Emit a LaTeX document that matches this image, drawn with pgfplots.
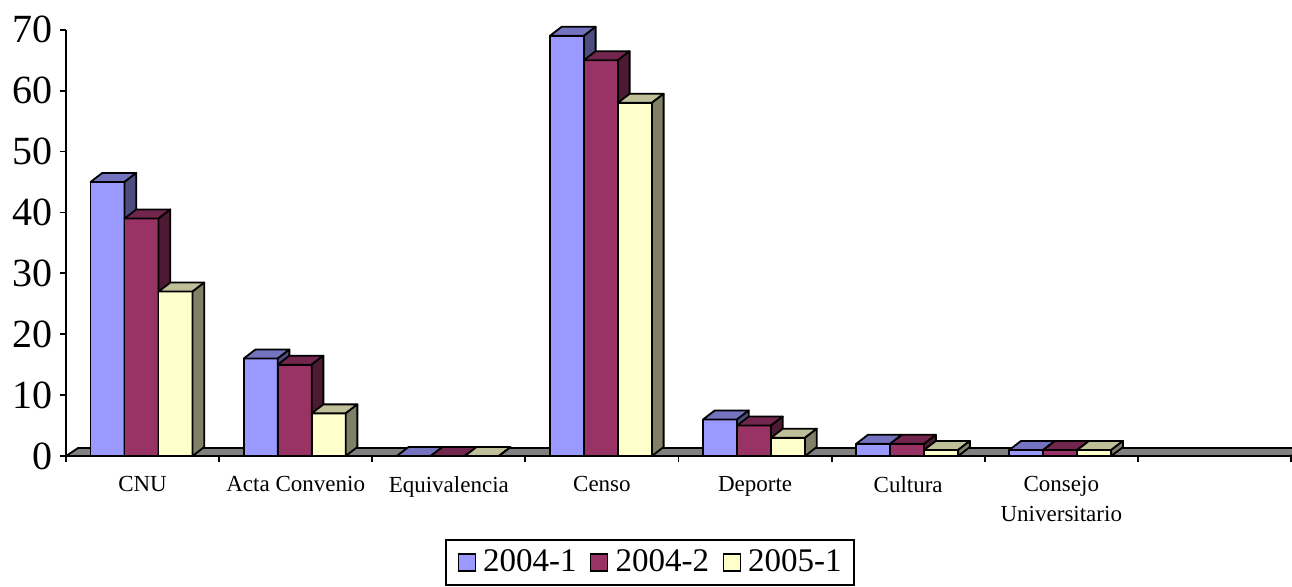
\documentclass[border=0pt]{standalone}
\usepackage{fontspec}
\setmainfont{Liberation Serif}
\usepackage{pgfplots}
\pgfplotsset{compat=1.18}
\definecolor{cA}{HTML}{9999FF}
\definecolor{cAt}{HTML}{7373BF}
\definecolor{cAs}{HTML}{4D4D80}
\definecolor{cB}{HTML}{993366}
\definecolor{cBt}{HTML}{73264D}
\definecolor{cBs}{HTML}{4D1A33}
\definecolor{cC}{HTML}{FFFFCC}
\definecolor{cCt}{HTML}{BFBF99}
\definecolor{cCs}{HTML}{808066}
\definecolor{floorc}{HTML}{808080}
\pgfdeclareplotmark{nothing}{}
% #1 front, #2 top, #3 side colour, #4 horizontal offset (pt, no unit)
\newcommand\drawbox[4]{%
  \pgfmathsetmacro\bxh{-\ry*3.045}%
  \pgfmathsetmacro\bxt{4.5-\ry*3.045}%
  \pgfmathsetmacro\bxl{#4-8.5}%
  \pgfmathsetmacro\bxr{#4+8.5}%
  \pgfmathsetmacro\bxlb{#4-8.5+5.85}%
  \pgfmathsetmacro\bxrb{#4+8.5+5.85}%
  \filldraw[fill=#1, draw=black, line width=0.9pt, line join=round] (\bxl pt,\bxh pt) rectangle (\bxr pt,0pt);
  \filldraw[fill=#2, draw=black, line width=0.9pt, line join=round] (\bxl pt,0pt) -- (\bxlb pt,4.5pt) -- (\bxrb pt,4.5pt) -- (\bxr pt,0pt) -- cycle;
  \filldraw[fill=#3, draw=black, line width=0.9pt, line join=round] (\bxr pt,0pt) -- (\bxrb pt,4.5pt) -- (\bxrb pt,\bxt pt) -- (\bxr pt,\bxh pt) -- cycle;
}
\pgfplotsset{
  box3d/.style n args={4}{
    scatter, only marks, mark=nothing,
    visualization depends on={rawy \as \ry},
    scatter/@pre marker code/.code={\drawbox{#1}{#2}{#3}{#4}},
    scatter/@post marker code/.code={},
    legend image code/.code={\path[draw=none, fill=none] (-2pt,0pt) -- (10.5pt,0pt); \draw[fill=#1, draw=black, line width=0.7pt] (0pt,-4.25pt) rectangle (8.5pt,4.25pt);},
  },
}
\begin{document}
\begin{tikzpicture}
\useasboundingbox (-33pt,-65pt) rectangle (613pt,228pt);
\begin{axis}[
  at={(0pt,0pt)}, anchor=south west,
  x=76.5625pt, y=3.045pt,
  xmin=-0.5, xmax=7.5, ymin=0, ymax=70,
  axis x line=bottom, axis y line=left,
  axis line style={-, line width=0.9pt},
  clip=false,
  xtick={-0.5,0.5,...,7.5}, xticklabels={},
  extra x ticks={0,1,2,3,4,5,6},
  extra x tick labels={CNU, Acta Convenio, Equivalencia, Censo, Deporte, Cultura, {Consejo\\Universitario}},
  extra x tick style={major tick length=0pt},
  ytick={0,10,...,70},
  tick align=outside, major tick length=3pt,
  tick style={line width=0.9pt, black},
  /pgf/number format/assume math mode=true,
  yticklabel style={font=\fontsize{20}{24}\selectfont},
  xticklabel style={font=\fontsize{11.5}{15}\selectfont, align=center, yshift=-6.5pt},
  legend style={at={(0.4767,0)}, anchor=north, yshift=-41.5pt, draw=black, line width=0.9pt,
    font=\fontsize{16.5}{20}\selectfont, inner xsep=4pt, inner ysep=3pt,
    /tikz/every even column/.append style={column sep=3pt}},
  legend columns=-1,
]
\addplot[forget plot, scatter, only marks, mark=nothing,
  scatter/@pre marker code/.code={\filldraw[fill=floorc, draw=black, line width=0.9pt, line join=round] (0pt,0pt) -- (612.5pt,0pt) -- (618.5pt,4pt) -- (6pt,4pt) -- cycle;},
  scatter/@post marker code/.code={}] coordinates {(-0.5,0)};
\addplot[box3d={cA}{cAt}{cAs}{-17.5}] coordinates {(0,45) (1,16) (2,0) (3,69) (4,6) (5,2) (6,1)};
\addplot[box3d={cB}{cBt}{cBs}{-0.5}] coordinates {(0,39) (1,15) (2,0) (3,65) (4,5) (5,2) (6,1)};
\addplot[box3d={cC}{cCt}{cCs}{16.5}] coordinates {(0,27) (1,7) (2,0) (3,58) (4,3) (5,1) (6,1)};
\legend{2004-1, 2004-2, 2005-1}
\end{axis}
\end{tikzpicture}
\end{document}
